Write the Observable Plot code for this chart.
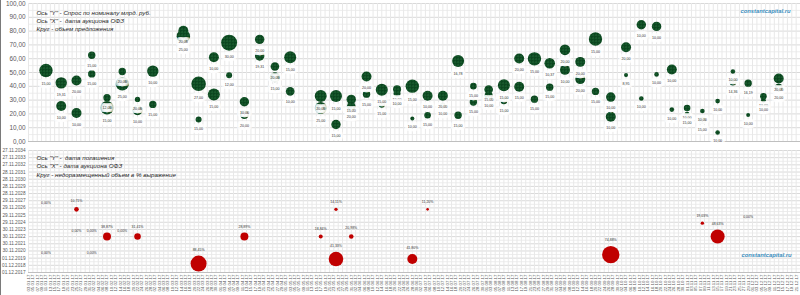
<!DOCTYPE html>
<html><head><meta charset="utf-8">
<script src="https://cdn.jsdelivr.net/npm/d3@7"></script>
<script src="https://cdn.jsdelivr.net/npm/@observablehq/plot@0.6"></script>
<style>
html,body{margin:0;padding:0;background:#fff;}
#wrap{position:relative;width:800px;height:295px;overflow:hidden;font-family:"Liberation Sans",Arial,sans-serif;}
#wrap::before{content:"";position:absolute;left:0;top:0;bottom:0;width:1px;background:#7a7a7a;z-index:5}
#topc svg, #botc svg{display:block;}
#topc g[aria-label="dot"] circle{fill:url(#gp);}
</style></head><body>
<svg width="0" height="0" style="position:absolute"><defs>
<pattern id="gp" width="3" height="3" patternUnits="userSpaceOnUse">
<rect width="3" height="3" fill="#0d4d22"/>
<rect x="1" y="1" width="1" height="1" fill="#357a48"/>
<rect x="0" y="0" width="1" height="1" fill="#052c15"/>
</pattern></defs></svg>
<div id="wrap"><div id="topc"></div><div id="botc"></div></div>
<script>
// ---------- data: top panel (demand, bn RUB) ----------
const greenDate = [
"2017-01-11",
"2017-01-18","2017-01-18","2017-01-25","2017-01-25","2017-02-01","2017-02-01",
"2017-02-08","2017-02-08","2017-02-15","2017-02-15","2017-02-22","2017-02-22",
"2017-03-01","2017-03-01","2017-03-15","2017-03-15","2017-03-22","2017-03-22",
"2017-03-29","2017-03-29","2017-04-05","2017-04-05","2017-04-12","2017-04-12",
"2017-04-19","2017-04-19","2017-04-26","2017-04-26","2017-05-03","2017-05-03",
"2017-05-17","2017-05-17","2017-05-24","2017-05-24","2017-05-31","2017-05-31",
"2017-06-07","2017-06-07","2017-06-14","2017-06-14","2017-06-21","2017-06-21",
"2017-06-28","2017-06-28","2017-07-05","2017-07-05","2017-07-12","2017-07-12",
"2017-07-19","2017-07-19","2017-07-26","2017-07-26","2017-08-02","2017-08-02",
"2017-08-09","2017-08-09","2017-08-16","2017-08-16","2017-08-23","2017-08-23",
"2017-08-30","2017-08-30","2017-09-06","2017-09-06","2017-09-13","2017-09-13",
"2017-09-20","2017-09-20","2017-09-27","2017-09-27","2017-10-04","2017-10-04",
"2017-10-11","2017-10-11","2017-10-18","2017-10-18","2017-10-25","2017-10-25",
"2017-11-01","2017-11-01","2017-11-08","2017-11-08","2017-11-15","2017-11-15",
"2017-11-22","2017-11-22","2017-11-29","2017-11-29","2017-12-06","2017-12-06",
"2017-12-13","2017-12-13"];
const greenDemand = [51.4, 42.5,25.7, 44.2,20.7, 62.5,49.0, 31.7,24.5, 50.7,41.8, 30.5,22.6,
 51.0,26.9, 80.3,76.2, 41.8,15.9, 61.0,34.1, 71.6,48.0, 28.8,19.5, 74.0,62.0, 54.3,46.6,
 61.0,36.3, 32.9,24.2, 32.9,12.3, 30.5,25.5, 47.1,34.3, 37.5,26.7, 37.9,34.8, 40.1,16.6,
 33.2,19.0, 33.2,26.2, 58.4,19.0, 40.1,28.6, 37.7,33.4, 40.8,29.3, 60.1,39.7, 59.9,30.7,
 56.7,39.4, 66.4,51.9, 57.7,45.2, 74.3,36.3, 32.2,18.0, 68.3,48.1, 84.6,31.2, 83.4,48.6,
 52.2,23.1, 24.3,19.8, 22.1,15.4, 29.3,6.5, 50.7,43.0, 42.3,19.2, 32.7,29.8, 45.7,38.9];
const greenSize = [21, 15.2,11.7, 11.7,11.7, 6.4,6.4, 6.4,21, 6.4,21, 3.4,11.7, 15.2,6.4,
 11.7,21, 25,4.2, 11.7,16.9, 30,4.2, 10.4,8.7, 10.4,10.4, 8.7,11.7, 16.9,8.7, 16.9,16.9,
 16.9,10.4, 10.4,8.7, 11.7,6.4, 16.9,4.2, 7.5,5.7, 21,1.9, 11.7,5.1, 11.7,2.9, 16.9,6.4,
 5.1,6.4, 8.7,7.5, 16.9,5.1, 11.7,11.7, 21,6.4, 13.2,6.4, 13.2,11.7, 11.7,11.7, 21,6.4,
 10.4,11.7, 11.7,1.9, 10.4,2.5, 10.4,2.5, 11.7,2.5, 5.1,2.9, 2.5,5.1, 2.5,2.5, 2.5,5.1,
 6.4,1.9, 5.1,2.9, 11.7,7.5];
const greenLabel = ["15,00", "19,31","10,00", "20,00","10,00", "15,00","15,00", "12,00","15,00",
 "20,00","25,00", "20,00","10,00", "10,00","15,00", "20,00","25,00", "27,00","15,00",
 "10,00","15,00", "30,00","12,00", "10,00","20,00", "20,00","19,31", "20,00","15,00",
 "15,00","10,00", "20,00","25,00", "15,00","15,00", "15,00","20,00", "20,00","15,00",
 "15,00","15,00", "10,00","10,00", "15,00","10,00", "10,00","15,00", "20,00","10,00",
 "16,78","15,00", "15,00","15,00", "15,00","10,00", "15,00","15,00", "20,00","15,00",
 "15,00","15,00", "10,37","15,00", "20,00","10,00", "20,00","20,00", "15,00","15,00",
 "10,00","10,00", "20,00","8,95", "10,00","10,00", "10,00","10,00", "10,00","10,00",
 "10,00","15,00", "10,00","15,00", "10,00","10,00", "10,00","14,36", "16,19","10,00",
 "10,00","10,00", "20,00","20,00"];

// ---------- data: bottom panel (maturity date, unplaced %) ----------
const redDate = ["2017-01-11","2017-01-11","2017-01-25","2017-01-25","2017-02-01","2017-02-01",
 "2017-02-08","2017-02-15","2017-02-22","2017-03-22","2017-04-12","2017-05-17","2017-05-24",
 "2017-05-24","2017-05-31","2017-06-28","2017-07-05","2017-09-27","2017-11-08","2017-11-15","2017-11-29"];
const redMaturity = ["2026-09-16","2019-10-16","2026-09-16","2022-12-07","2022-12-07","2019-10-16",
 "2022-12-07","2022-12-07","2022-12-07","2019-02-27","2022-12-07","2022-12-07","2026-09-16",
 "2019-10-16","2022-12-07","2019-10-16","2026-09-16","2020-05-27","2024-10-16","2022-12-07","2024-10-16"];
const redSize = [0,0,1.75,0,0,0, 5.28,0,3.6,21.1,5.28,1.32,0.95, 17.6,1.75,8.26,0.56,25,0.95,16.2,0];
const redLabel = ["0,00%","0,00%","10,71%","0,00%","0,00%","0,00%","38,87%","0,00%","31,41%","88,45%",
 "28,89%","18,84%","14,11%","41,33%","20,98%","41,80%","11,20%","74,88%","19,03%","48,63%","0,00%"];

// ---------- ticks / texts ----------
const xStartStr = "2017-01-03", xEndStr = "2017-12-23";
const topYTicks = [0,10,20,30,40,50,60,70,80,90,100];
const botYTickLabels = ["01.12.2017","01.12.2018","01.12.2019","30.11.2020","30.11.2021","30.11.2022",
 "30.11.2023","29.11.2024","29.11.2025","29.11.2026","29.11.2027","28.11.2028","28.11.2029",
 "28.11.2030","28.11.2031","27.11.2032","27.11.2033","27.11.2034"];
const topNotes = ["Ось \"Y\" - Спрос по номиналу млрд. руб.", "Ось \"X\" -  дата аукциона ОФЗ", "Круг - объем предложения"];
const botNotes = ["Ось \"Y\" -  дата погашения", "Ось \"X\" - дата аукциона ОФЗ", "Круг - недоразмещенный объем в % выражение"];
const watermark = "constantcapital.ru";

// ---------- build ----------
const p = d3.utcParse("%Y-%m-%d");
const pd = d3.utcParse("%d.%m.%Y");
const xStart = p(xStartStr), xEnd = p(xEndStr);
const nDays = d3.utcDay.count(xStart, xEnd);
const xTicks = d3.range(0, nDays, 2).map(i => d3.utcDay.offset(xStart, i));

const green = greenDate.map((d, i) => ({date: p(d), demand: greenDemand[i], size: greenSize[i], label: greenLabel[i]}));
const red = redDate.map((d, i) => ({date: p(d), mat: p(redMaturity[i]), size: redSize[i], label: redLabel[i]}));
const yTicks = botYTickLabels.map(pd);
const yMinor = yTicks.slice(1).map((d, i) => new Date((+d + +yTicks[i]) / 2));

const W = 800, ML = 28, MR = 0;
const TH = 145, TMT = 3, TMB = 4;
const BH = 150, BMT = 5, BMB = 23;
const gR = {domain: [0, 30], range: [0, 8]};
const rR = {domain: [0, 25], range: [0, 8.7]};
const gRf = d3.scaleSqrt().domain(gR.domain).range(gR.range);
const rRf = d3.scaleSqrt().domain(rR.domain).range(rR.range);
const pxPerUnit = (TH - TMT - TMB) / 100;
const pxPerMs = (BH - BMT - BMB) / (yTicks[yTicks.length - 1] - yTicks[0]);

const gridC = "#d9d9d9", gridMinor = "#ededed", gridV = "#e8e8e8", txt = "#595959";
const fmt2 = d => d.toFixed(2).replace(".", ",");

const topChart = Plot.plot({
  width: W, height: TH, marginLeft: ML, marginRight: MR, marginTop: TMT, marginBottom: TMB,
  style: {fontFamily: "Liberation Sans, Arial, sans-serif", background: "white", overflow: "visible"},
  x: {type: "utc", domain: [xStart, xEnd], axis: null},
  y: {domain: [0, 100], label: null},
  r: {type: "sqrt", ...gR},
  marks: [
    Plot.gridY(d3.range(5, 100, 10), {stroke: gridMinor, strokeOpacity: 1}),
    Plot.gridY(topYTicks, {stroke: gridC, strokeOpacity: 1}),
    Plot.gridX(xTicks, {stroke: gridV, strokeOpacity: 1}),
    Plot.ruleY([0], {stroke: "#bfbfbf"}),
    Plot.axisY(topYTicks, {tickSize: 0, tickPadding: 3, fontSize: 6.4, tickFormat: fmt2, color: txt, label: null}),
    Plot.dot(green, {x: "date", y: "demand", r: "size", fill: "#145430"}),
    Plot.text(green, {x: "date", y: d => d.demand - (gRf(d.size) + 6.5) / pxPerUnit, text: "label",
      fontSize: 3.6, fill: "#333", stroke: "white", strokeOpacity: 0.7, strokeWidth: 6}),
    Plot.text([topNotes.join("\n")], {frameAnchor: "top-left", dx: 8, dy: 6.2, lineAnchor: "top",
      textAnchor: "start", fontSize: 6.2, fontStyle: "italic", lineHeight: 1.29, fill: "#1f1f1f"}),
    Plot.text([watermark], {frameAnchor: "top-right", dx: -10, dy: 8, lineAnchor: "middle", textAnchor: "end",
      fontSize: 5.8, fontStyle: "italic", fontWeight: "bold", fill: "#3b8fc0"})
  ]
});
document.getElementById("topc").append(topChart);

const botChart = Plot.plot({
  width: W, height: BH, marginLeft: ML, marginRight: MR, marginTop: BMT, marginBottom: BMB,
  style: {fontFamily: "Liberation Sans, Arial, sans-serif", background: "white", overflow: "visible"},
  x: {type: "utc", domain: [xStart, xEnd], label: null},
  y: {type: "utc", domain: [yTicks[0], yTicks[yTicks.length - 1]], label: null},
  r: {type: "sqrt", ...rR},
  marks: [
    Plot.gridY(yMinor, {stroke: gridMinor, strokeOpacity: 1}),
    Plot.gridY(yTicks, {stroke: gridC, strokeOpacity: 1}),
    Plot.gridX(xTicks, {stroke: gridV, strokeOpacity: 1}),
    Plot.ruleY([yTicks[0]], {stroke: "#bfbfbf"}),
    Plot.axisY(yTicks, {tickSize: 0, tickPadding: 3, fontSize: 4.7, tickFormat: d3.utcFormat("%d.%m.%Y"), color: txt, label: null}),
    Plot.axisX(xTicks, {tickSize: 0, tickPadding: 2, fontSize: 4.4, tickRotate: -90, tickFormat: d3.utcFormat("%d.%m.%y"), color: txt, label: null}),
    Plot.dot(red, {x: "date", y: "mat", r: "size", fill: "#c00000"}),
    Plot.text(red, {x: "date", y: d => new Date(+d.mat + (rRf(d.size) + 6) / pxPerMs), text: "label",
      fontSize: 3.5, fill: "#333"}),
    Plot.text([botNotes.join("\n")], {frameAnchor: "top-left", dx: 8, dy: 3.2, lineAnchor: "top",
      textAnchor: "start", fontSize: 6.2, fontStyle: "italic", lineHeight: 1.39, fill: "#1f1f1f"}),
    Plot.text([watermark], {frameAnchor: "bottom-right", dx: -9, dy: -17, lineAnchor: "middle", textAnchor: "end",
      fontSize: 5.8, fontStyle: "italic", fontWeight: "bold", fill: "#3b8fc0"})
  ]
});
document.getElementById("botc").append(botChart);
</script>
</body></html>
